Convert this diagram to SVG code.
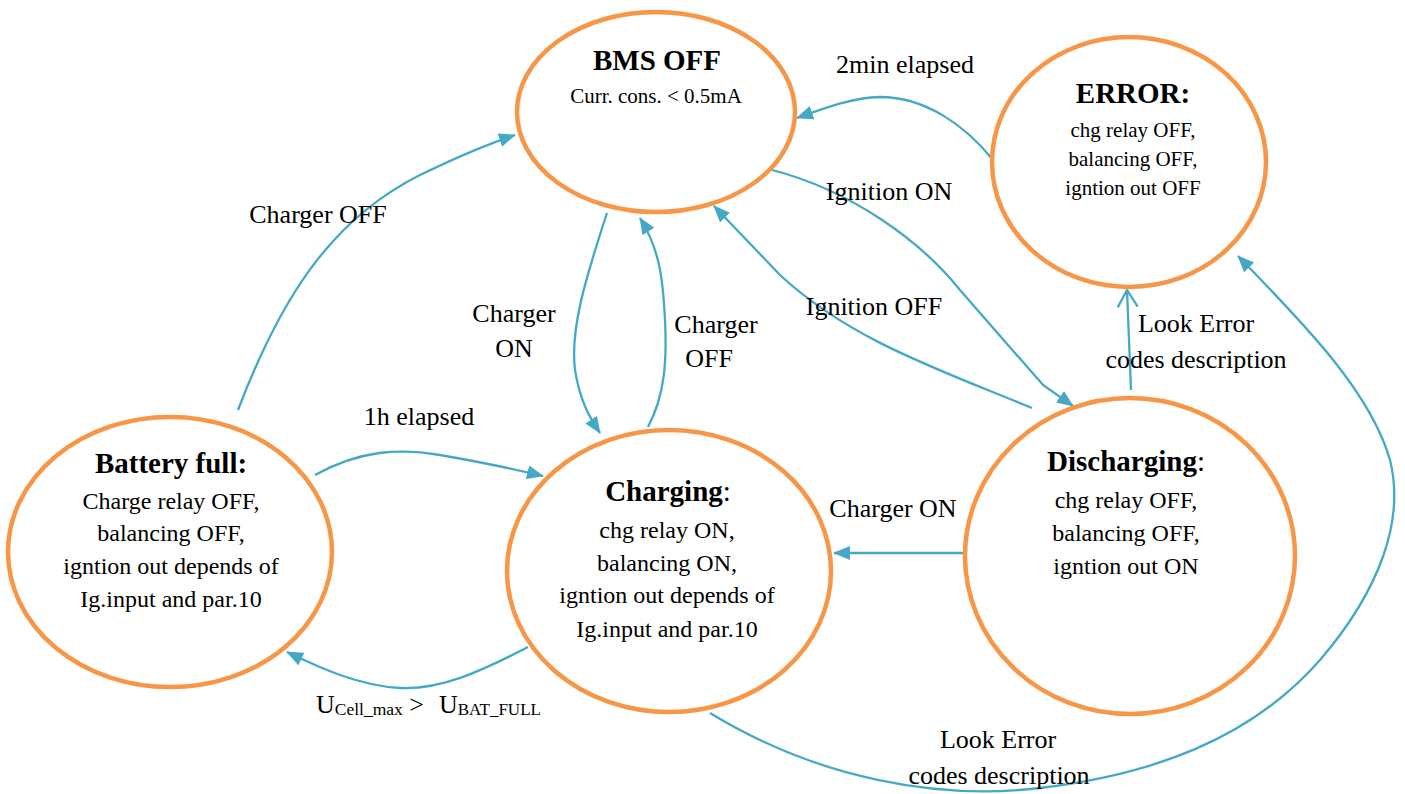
<svg xmlns="http://www.w3.org/2000/svg" width="1405" height="794" viewBox="0 0 1405 794">
<style>
.node{fill:#fff;stroke:#F79646;stroke-width:4.5}
.t{font-family:"Liberation Serif","Times New Roman",serif;fill:#000;text-anchor:middle}
.title{font-size:29px;font-weight:bold}
.body{font-size:24px}
.small{font-size:21px}
.lbl{font-size:26px}
.c{fill:none;stroke:#45A9C5;stroke-width:2.3}
</style>
<defs>
<marker id="arr" markerUnits="userSpaceOnUse" markerWidth="18" markerHeight="14" refX="16" refY="7" orient="auto">
<path d="M0,0 L17,7 L0,14 Z" fill="#45A9C5"/>
</marker>
<marker id="open" markerUnits="userSpaceOnUse" markerWidth="20" markerHeight="22" refX="18" refY="11" orient="auto">
<path d="M1,1 L18,11 L1,21" fill="none" stroke="#45A9C5" stroke-width="2.3"/>
</marker>
</defs>
<rect width="1405" height="794" fill="#fff"/>
<g id="connectors">
<path class="c" d="M993,160 C965,125 925,97 880,97 C850,98 825,108 797,118" marker-end="url(#arr)"/>
<path class="c" d="M772,170 C850,190 920,240 960,290 L1043,385 L1073,406" marker-end="url(#arr)"/>
<path class="c" d="M1032,408 C940,370 850,340 780,275 L714,206" marker-end="url(#arr)"/>
<path class="c" d="M607,213 C585,280 570,330 575,370 C580,400 588,415 600,433" marker-end="url(#arr)"/>
<path class="c" d="M648,427 C665,395 667,360 665,320 C663,280 660,250 640,218" marker-end="url(#arr)"/>
<path class="c" d="M238,410 C280,300 330,220 420,175 C455,158 485,145 515,135" marker-end="url(#arr)"/>
<path class="c" d="M315,475 C360,450 400,448 440,455 C480,462 510,468 543,476" marker-end="url(#arr)"/>
<path class="c" d="M528,647 C480,672 440,690 400,688 C360,686 320,668 287,652" marker-end="url(#arr)"/>
<path class="c" d="M965,553 L834,553" marker-end="url(#arr)"/>
<path class="c" d="M1131,390 L1127,290" marker-end="url(#open)"/>
<path class="c" d="M710,713 C820,780 940,800 1040,788 C1150,775 1250,740 1320,660 C1380,590 1405,520 1390,460 C1370,390 1300,320 1238,256" marker-end="url(#arr)"/>
</g>
<g id="labels">
<text class="t lbl" x="905" y="73">2min elapsed</text>
<text class="t lbl" x="889" y="200">Ignition ON</text>
<text class="t lbl" x="874" y="315">Ignition OFF</text>
<text class="t lbl" x="318" y="223">Charger OFF</text>
<text class="t lbl" x="514" y="322">Charger</text>
<text class="t lbl" x="514" y="357">ON</text>
<text class="t lbl" x="716" y="333">Charger</text>
<text class="t lbl" x="709" y="367">OFF</text>
<text class="t lbl" x="419" y="425">1h elapsed</text>
<text class="t lbl" x="893" y="517">Charger ON</text>
<text class="t lbl" x="1196" y="332">Look Error</text>
<text class="t lbl" x="1196" y="368">codes description</text>
<text class="t lbl" x="998" y="748">Look Error</text>
<text class="t lbl" x="999" y="784">codes description</text>
<text class="t lbl" x="316" y="713" style="text-anchor:start">U<tspan font-size="17.5" dy="2">Cell_max</tspan><tspan dy="-2"> &gt;  </tspan><tspan x="439">U</tspan><tspan font-size="17" dy="2">BAT_FULL</tspan></text>
</g>
<g id="bms-off">
<ellipse class="node" cx="656" cy="112" rx="139" ry="100"/>
<text class="t title" x="657" y="70">BMS OFF</text>
<text class="t small" x="656" y="103">Curr. cons. &lt; 0.5mA</text>
</g>
<g id="error">
<ellipse class="node" cx="1129" cy="162" rx="137" ry="125"/>
<text class="t title" x="1133" y="103">ERROR:</text>
<text class="t small" x="1133" y="137">chg relay OFF,</text>
<text class="t small" x="1133" y="166">balancing OFF,</text>
<text class="t small" x="1133" y="195">igntion out OFF</text>
</g>
<g id="battery-full">
<ellipse class="node" cx="170" cy="552" rx="162" ry="135"/>
<text class="t title" x="171" y="473">Battery full:</text>
<text class="t body" x="171" y="509">Charge relay OFF,</text>
<text class="t body" x="171" y="541">balancing OFF,</text>
<text class="t body" x="171" y="574">igntion out depends of</text>
<text class="t body" x="171" y="607">Ig.input and par.10</text>
</g>
<g id="charging">
<ellipse class="node" cx="669" cy="571" rx="162" ry="141"/>
<text class="t title" x="668" y="501">Charging<tspan font-weight="normal">:</tspan></text>
<text class="t body" x="667" y="538">chg relay ON,</text>
<text class="t body" x="667" y="571">balancing ON,</text>
<text class="t body" x="667" y="603">igntion out depends of</text>
<text class="t body" x="667" y="637">Ig.input and par.10</text>
</g>
<g id="discharging">
<ellipse class="node" cx="1130" cy="556" rx="165" ry="158"/>
<text class="t title" x="1126" y="471">Discharging<tspan font-weight="normal">:</tspan></text>
<text class="t body" x="1126" y="508">chg relay OFF,</text>
<text class="t body" x="1126" y="541">balancing OFF,</text>
<text class="t body" x="1126" y="574">igntion out ON</text>
</g>
</svg>
